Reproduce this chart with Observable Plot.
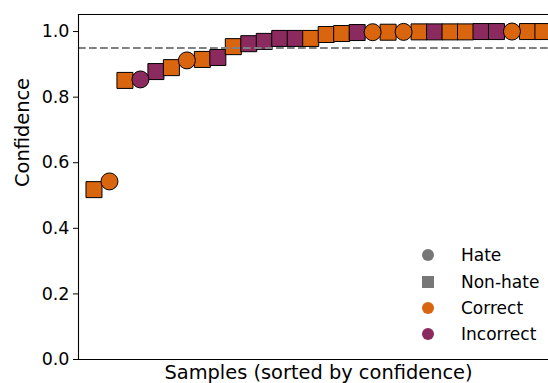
<!DOCTYPE html>
<html><head><meta charset="utf-8">
<script src="https://cdn.jsdelivr.net/npm/d3@7"></script>
<script src="https://cdn.jsdelivr.net/npm/@observablehq/plot@0.6"></script>
<style>
body{margin:0;background:#fff}
svg{font-family:"DejaVu Sans",sans-serif}
</style>
</head><body><div id="chart"></div>
<script>
// ---- data ----
const sampleRank = [1,2,3,4,5,6,7,8,9,10,11,12,13,14,15,16,17,18,19,20,21,22,23,24,25,26,27,28,29,30];
const confidence = [0.518,0.543,0.851,0.854,0.878,0.890,0.912,0.915,0.921,0.954,0.963,0.970,0.979,0.979,0.979,0.991,0.994,0.997,0.998,0.998,0.999,0.999,0.999,0.999,0.999,1.0,1.0,1.0,1.0,1.0];
const trueLabel = ["Non-hate","Hate","Non-hate","Hate","Non-hate","Non-hate","Hate","Non-hate","Non-hate","Non-hate",
                   "Non-hate","Non-hate","Non-hate","Non-hate","Non-hate","Non-hate","Non-hate","Non-hate","Hate","Non-hate",
                   "Hate","Non-hate","Non-hate","Non-hate","Non-hate","Non-hate","Non-hate","Hate","Non-hate","Non-hate"];
const outcome = ["Correct","Correct","Correct","Incorrect","Incorrect","Correct","Correct","Correct","Incorrect","Correct",
                 "Incorrect","Incorrect","Incorrect","Incorrect","Correct","Correct","Correct","Incorrect","Correct","Correct",
                 "Correct","Correct","Incorrect","Correct","Correct","Incorrect","Incorrect","Correct","Correct","Correct"];
const threshold = [0.95];
const yTicks = [0, 0.2, 0.4, 0.6, 0.8, 1.0];
const outcomeDomain = ["Correct","Incorrect"];
const outcomeColors = ["#d9650f","#8a2a5e"];
const legendLabels = ["Hate","Non-hate","Correct","Incorrect"];
const xLabel = "Samples (sorted by confidence)";
const yLabel = "Confidence";

const rows = sampleRank.map((r,i)=>({rank:r, conf:confidence[i], label:trueLabel[i], outcome:outcome[i]}));
const squares = rows.filter(d=>d.label==="Non-hate");
const circles = rows.filter(d=>d.label==="Hate");

const plot = Plot.plot({
  width: 548, height: 383,
  marginTop: 14, marginBottom: 24, marginLeft: 78, marginRight: 0,
  style: {fontFamily: "DejaVu Sans, sans-serif", fontSize: "16.7px", color: "#000", background: "#fff"},
  x: {domain: [0, 30.36], axis: null},
  y: {domain: [0, 1.052], axis: null},
  color: {domain: outcomeDomain, range: outcomeColors},
  marks: [
    Plot.axisY({ticks: yTicks, tickFormat: d3.format(".1f"), tickSize: 5, tickPadding: 4, label: null, fontSize: 17.5, stroke: "#000", fill: "#000"}),
    Plot.dot(squares, {x:"rank", y:"conf", symbol:"square", r:9.03, fill:"outcome", stroke:"#000", strokeWidth:1}),
    Plot.dot(circles, {x:"rank", y:"conf", symbol:"circle", r:8.5, fill:"outcome", stroke:"#000", strokeWidth:1}),
    Plot.ruleY(threshold, {stroke:"#808080", strokeWidth:2, strokeDasharray:"7.7,3.3"}),
    Plot.frame({anchor:"top", stroke:"#000", strokeWidth:1.1}),
    Plot.frame({anchor:"left", stroke:"#000", strokeWidth:1.1}),
    Plot.frame({anchor:"bottom", stroke:"#000", strokeWidth:1.1}),
    Plot.text([xLabel], {text:d=>d, frameAnchor:"bottom", dx:5, dy:13, lineAnchor:"middle", fontSize:19.4, fill:"#000"}),
    Plot.text([yLabel], {text:d=>d, frameAnchor:"left", dx:-56, rotate:-90, lineAnchor:"middle", fontSize:19.4, fill:"#000"})
  ]
});
document.getElementById("chart").appendChild(plot);

// legend
const svg = d3.select(plot);
const lg = svg.append("g").attr("text-anchor","start");
const rowsY = [255, 282, 308, 334];
legendLabels.forEach((t,i)=>{
  const y = rowsY[i];
  if (t === "Non-hate") {
    lg.append("rect").attr("x",422).attr("y",y-6).attr("width",12).attr("height",12).attr("fill","#777");
  } else {
    const fill = t==="Hate" ? "#777" : outcomeColors[outcomeDomain.indexOf(t)];
    lg.append("circle").attr("cx",428).attr("cy",y).attr("r",6).attr("fill",fill);
  }
  lg.append("text").attr("x",461).attr("y",y).attr("dy","0.36em")
    .style("font-size","17px").style("text-anchor","start").style("fill","#000").text(t);
});
</script>
</body></html>
